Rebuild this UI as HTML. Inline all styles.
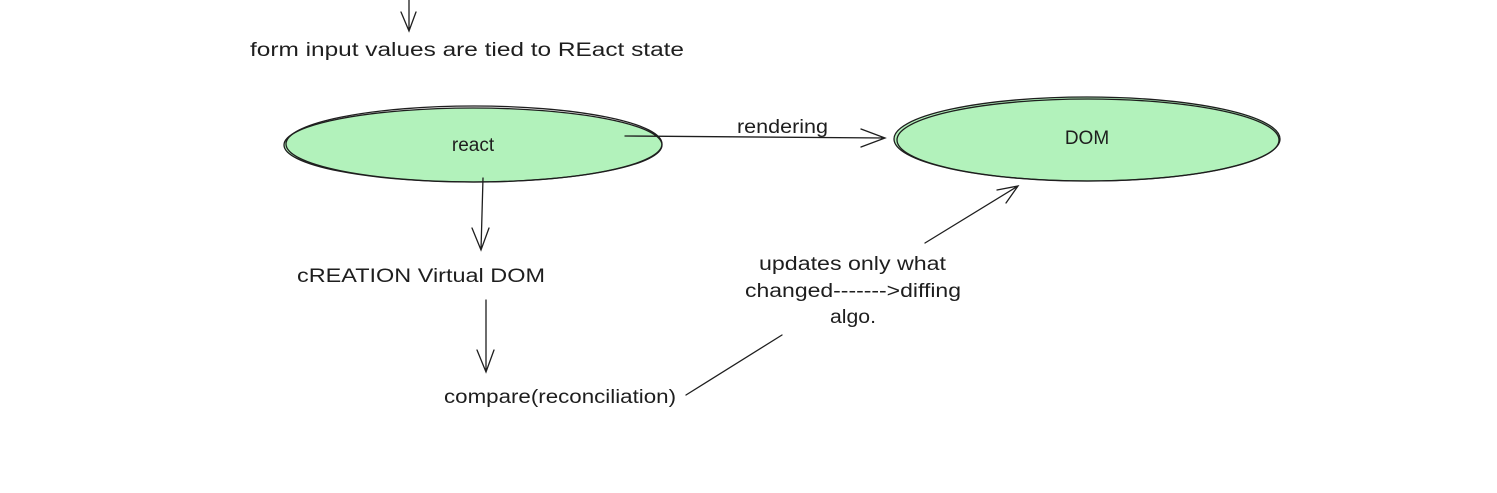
<!DOCTYPE html>
<html><head><meta charset="utf-8"><style>
html,body{margin:0;padding:0;background:#fff;}
svg{display:block}
text{font-family:"Liberation Sans",sans-serif;font-size:19px;fill:#1e1e1e;}
</style></head><body>
<svg width="1497" height="493" viewBox="0 0 1497 493" xmlns="http://www.w3.org/2000/svg">
<g stroke="#1e1e1e" stroke-width="1.3" fill="none" stroke-linecap="round">
<!-- top arrow -->
<path d="M409 0 L409 30 M401 12 L409 31 L416 12"/>
<!-- react ellipse -->
<ellipse cx="473" cy="145" rx="189" ry="37" fill="#b2f2bb"/>
<ellipse cx="474" cy="144" rx="188" ry="38" />
<!-- DOM ellipse -->
<ellipse cx="1087" cy="139" rx="193" ry="42" fill="#b2f2bb"/>
<ellipse cx="1088" cy="140" rx="191" ry="41" />
<!-- rendering arrow -->
<path d="M625 136 L885 138 M861 129 L885 138 L861 147"/>
<!-- react down arrow -->
<path d="M483 178 L481 250 M472 228 L481 250 L489 228"/>
<!-- virtual dom down arrow -->
<path d="M486 300 L486 372 M477 350 L486 372 L494 350"/>
<!-- compare line -->
<path d="M686 395 L782 335"/>
<!-- updates arrow -->
<path d="M925 243 L1018 186 M997 190 L1018 186 L1006 203"/>
</g>
<text x="250" y="56" textLength="434" lengthAdjust="spacingAndGlyphs">form input values are tied to REact state</text>
<text x="473" y="151" text-anchor="middle">react</text>
<text x="737" y="133" textLength="91" lengthAdjust="spacingAndGlyphs">rendering</text>
<text x="1087" y="144" text-anchor="middle">DOM</text>
<text x="297" y="282" textLength="248" lengthAdjust="spacingAndGlyphs">cREATION  Virtual DOM</text>
<text x="444" y="403" textLength="232" lengthAdjust="spacingAndGlyphs">compare(reconciliation)</text>
<text x="759" y="270" textLength="187" lengthAdjust="spacingAndGlyphs">updates only what</text>
<text x="745" y="297" textLength="216" lengthAdjust="spacingAndGlyphs">changed-------&gt;diffing</text>
<text x="830" y="323" textLength="46" lengthAdjust="spacingAndGlyphs">algo.</text>
</svg>
</body></html>
